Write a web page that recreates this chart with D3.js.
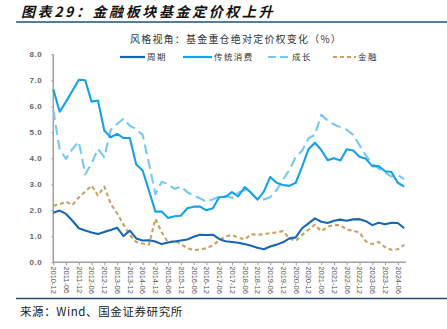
<!DOCTYPE html>
<html>
<head>
<meta charset="utf-8">
<script src="https://cdn.jsdelivr.net/npm/d3@7"></script>
<style>
    body { margin: 0; background: #fff; }
    svg { display: block; }
</style>
</head>
<body>
<div id="chart-area"></div>
<script>
// quarterly dates, 2010-12 .. 2024-09
const quarters = [
    "2010-12", "2011-03", "2011-06", "2011-09", "2011-12", "2012-03", "2012-06", "2012-09",
    "2012-12", "2013-03", "2013-06", "2013-09", "2013-12", "2014-03", "2014-06", "2014-09",
    "2014-12", "2015-03", "2015-06", "2015-09", "2015-12", "2016-03", "2016-06", "2016-09",
    "2016-12", "2017-03", "2017-06", "2017-09", "2017-12", "2018-03", "2018-06", "2018-09",
    "2018-12", "2019-03", "2019-06", "2019-09", "2019-12", "2020-03", "2020-06", "2020-09",
    "2020-12", "2021-03", "2021-06", "2021-09", "2021-12", "2022-03", "2022-06", "2022-09",
    "2022-12", "2023-03", "2023-06", "2023-09", "2023-12", "2024-03", "2024-06", "2024-09"
];

const cycle = [
    1.91, 1.99, 1.86, 1.60, 1.31, 1.22, 1.15, 1.09, 1.17, 1.24, 1.33, 1.01, 1.22, 0.92,
    0.84, 0.85, 0.80, 0.70, 0.76, 0.80, 0.84, 0.88, 0.98, 1.06, 1.05, 1.06, 0.90, 0.81,
    0.78, 0.75, 0.70, 0.64, 0.56, 0.50, 0.61, 0.68, 0.77, 0.92, 0.96, 1.31, 1.50, 1.69,
    1.56, 1.51, 1.60, 1.64, 1.60, 1.65, 1.66, 1.58, 1.43, 1.52, 1.46, 1.52, 1.51, 1.31
];
const consumer = [
    6.65, 5.79, 6.18, 6.60, 7.02, 7.00, 6.18, 6.22, 5.06, 4.81, 4.94, 4.78, 4.78, 3.76,
    3.53, 2.75, 1.95, 1.95, 1.70, 1.77, 1.79, 2.08, 2.14, 2.14, 2.00, 2.08, 2.50, 2.52,
    2.70, 2.54, 2.89, 2.68, 2.41, 2.72, 3.28, 3.06, 2.97, 2.94, 3.06, 3.68, 4.35, 4.60,
    4.32, 3.93, 4.00, 3.92, 4.35, 4.30, 4.06, 3.98, 3.70, 3.70, 3.50, 3.47, 3.06, 2.91
];
const growth = [
    5.85, 4.34, 3.98, 4.36, 4.64, 3.38, 3.80, 4.36, 4.04, 5.09, 5.32, 5.52, 5.25, 5.12,
    4.90, 3.80, 2.62, 3.10, 3.00, 2.82, 2.92, 2.70, 2.55, 2.46, 2.33, 2.42, 2.53, 2.55,
    2.48, 2.68, 2.78, 2.65, 2.42, 2.42, 2.50, 2.78, 3.17, 3.55, 4.06, 4.29, 4.77, 4.90,
    5.67, 5.45, 5.30, 5.20, 5.10, 4.90, 4.50, 4.10, 3.80, 3.60, 3.45, 3.30, 3.35, 3.20
];
const finance = [
    2.17, 2.24, 2.33, 2.20, 2.50, 2.72, 2.95, 2.57, 2.91, 2.25, 1.88, 1.45, 1.05, 0.78,
    0.72, 0.68, 1.67, 1.15, 0.76, 0.83, 0.70, 0.54, 0.47, 0.50, 0.54, 0.65, 0.85, 1.00,
    1.05, 0.95, 0.88, 1.08, 1.06, 1.08, 1.12, 1.15, 1.20, 0.92, 0.82, 1.05, 1.25, 1.45,
    1.20, 1.37, 1.43, 1.43, 1.25, 1.22, 1.14, 0.80, 0.70, 0.78, 0.58, 0.48, 0.50, 0.67
];

const seriesNames = ["周期", "传统消费", "成长", "金融"];
const yTicks = [0, 1, 2, 3, 4, 5, 6, 7, 8];

const styles = [
    { color: "#1767b3", dash: null },
    { color: "#15a1e6", dash: null },
    { color: "#77c8f1", dash: "10,5" },
    { color: "#c9a062", dash: "4,3" }
];

const series = [cycle, consumer, growth, finance].map((values, k) => ({
    name: seriesNames[k],
    values: values.map((v, i) => ({ date: quarters[i], value: v })),
    ...styles[k]
}));

const width = 447, height = 329;
const svg = d3.select("#chart-area")
    .append("svg")
    .attr("width", width)
    .attr("height", height);

// header and footer
svg.append("text")
    .attr("x", 21)
    .attr("y", 16.5)
    .attr("font-family", "'Noto Sans CJK SC', sans-serif")
    .attr("font-size", 14)
    .attr("font-weight", "bold")
    .attr("font-style", "italic")
    .attr("letter-spacing", 2.6)
    .attr("fill", "#111")
    .text("图表29：金融板块基金定价权上升");

svg.append("line")
    .attr("x1", 16).attr("x2", width)
    .attr("y1", 22).attr("y2", 22)
    .attr("stroke", "#1f4f7a")
    .attr("stroke-width", 1.6);

svg.append("line")
    .attr("x1", 16).attr("x2", width)
    .attr("y1", 298.5).attr("y2", 298.5)
    .attr("stroke", "#1f4f7a")
    .attr("stroke-width", 1.6);

svg.append("text")
    .attr("x", 20)
    .attr("y", 316)
    .attr("font-family", "'Noto Sans CJK SC', sans-serif")
    .attr("font-size", 11.5)
    .attr("letter-spacing", 0.6)
    .attr("fill", "#222")
    .text("来源：Wind、国金证券研究所");

svg.append("text")
    .attr("x", 236)
    .attr("y", 43)
    .attr("text-anchor", "middle")
    .attr("font-family", "'Noto Sans CJK SC', sans-serif")
    .attr("font-size", 10)
    .attr("letter-spacing", 1.2)
    .attr("fill", "#333")
    .text("风格视角：基金重仓绝对定价权变化（%）");

// scales
const xScale = d3.scalePoint()
    .domain(quarters)
    .range([53.3, 404.2]);
const yScale = d3.scaleLinear()
    .domain([0, 8])
    .range([262.3, 54.3]);

const axisColor = "#a0a0a0";

const xAxisCall = d3.axisBottom(xScale)
    .tickValues(quarters.filter((d, i) => i % 2 === 0))
    .tickSize(3);
const xAxis = svg.append("g")
    .attr("class", "x axis")
    .attr("transform", "translate(0," + yScale(0) + ")")
    .call(xAxisCall);
xAxis.select(".domain")
    .attr("d", "M53.3,0H406")
    .attr("stroke", axisColor)
    .attr("stroke-width", 1.5);
xAxis.selectAll(".tick line").attr("stroke", axisColor);
xAxis.selectAll(".tick text")
    .attr("y", 0)
    .attr("x", 4)
    .attr("dy", "0.35em")
    .attr("transform", "rotate(90)")
    .style("text-anchor", "start")
    .attr("font-family", "'Liberation Sans', Arial, sans-serif")
    .attr("font-size", 7.5)
    .attr("fill", "#555");

const yAxisCall = d3.axisLeft(yScale)
    .tickValues(yTicks)
    .tickSize(2)
    .tickPadding(9)
    .tickFormat(d3.format(".1f"));
const yAxis = svg.append("g")
    .attr("class", "y axis")
    .attr("transform", "translate(53.3,0)")
    .call(yAxisCall);
yAxis.select(".domain")
    .attr("d", "M0," + yScale(8) + "V" + yScale(0))
    .attr("stroke", axisColor)
    .attr("stroke-width", 1.5);
yAxis.selectAll(".tick line").attr("stroke", axisColor);
yAxis.selectAll(".tick text")
    .attr("font-family", "'Liberation Sans', Arial, sans-serif")
    .attr("font-size", 8)
    .attr("font-weight", "bold")
    .attr("letter-spacing", 0.6)
    .attr("fill", "#666");

// series lines
const path = d3.line()
    .x((d) => xScale(d.date))
    .y((d) => yScale(d.value));

svg.selectAll(".series")
    .data(series.slice().reverse())
    .enter()
    .append("path")
    .attr("class", "series")
    .attr("fill", "none")
    .attr("stroke", (d) => d.color)
    .attr("stroke-width", 2.1)
    .attr("stroke-linejoin", "round")
    .attr("stroke-dasharray", (d) => d.dash)
    .attr("d", (d) => path(d.values));

// legend
const legendX = [120, 183, 268, 333];
const legendLen = [25, 29, 22, 23];
const legend = svg.selectAll(".legend")
    .data(series)
    .enter()
    .append("g")
    .attr("class", "legend")
    .attr("transform", (d, i) => "translate(" + legendX[i] + ",57)");
legend.append("line")
    .attr("x1", 0)
    .attr("x2", (d, i) => legendLen[i])
    .attr("stroke", (d) => d.color)
    .attr("stroke-width", 2.2)
    .attr("stroke-dasharray", (d, i) => i === 2 ? "8,4" : d.dash);
legend.append("text")
    .attr("x", (d, i) => legendLen[i] + 2)
    .attr("dy", "0.35em")
    .attr("font-family", "'Noto Sans CJK SC', sans-serif")
    .attr("font-size", 8.5)
    .attr("letter-spacing", 1.4)
    .attr("fill", "#333")
    .text((d) => d.name);
</script>
</body>
</html>
